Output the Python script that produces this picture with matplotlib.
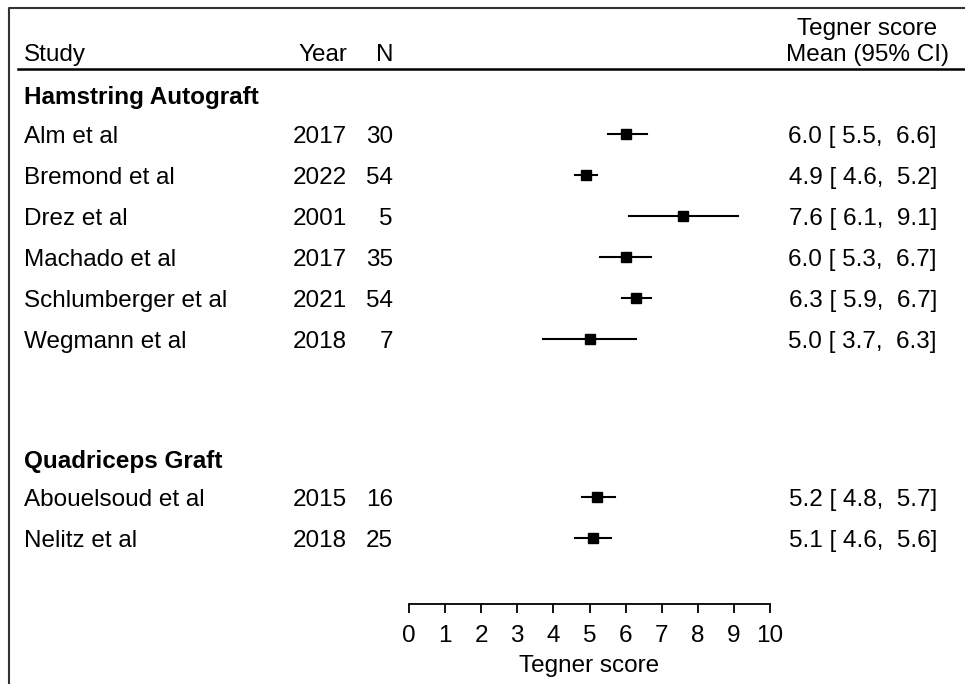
import matplotlib
matplotlib.use("Agg")
import matplotlib.pyplot as plt
from matplotlib import transforms
from matplotlib.lines import Line2D

plt.rcParams['font.family'] = ['Liberation Sans', 'DejaVu Sans']

# data
groups = ["Hamstring Autograft", "Quadriceps Graft"]
studies = ["Alm et al", "Bremond et al", "Drez et al", "Machado et al",
           "Schlumberger et al", "Wegmann et al",
           "Abouelsoud et al", "Nelitz et al"]
years = [2017, 2022, 2001, 2017, 2021, 2018, 2015, 2018]
ns = [30, 54, 5, 35, 54, 7, 16, 25]
means = [6.0, 4.9, 7.6, 6.0, 6.3, 5.0, 5.2, 5.1]
lower = [5.5, 4.6, 6.1, 5.3, 5.9, 3.7, 4.8, 4.6]
upper = [6.6, 5.2, 9.1, 6.7, 6.7, 6.3, 5.7, 5.6]
xticks = list(range(0, 11))

# layout (pixel baselines of each text row)
W, H = 965, 684
group_base = [104, 468]
study_base = [143, 184, 225, 266, 307, 348, 506, 547]
MARK_OFF = 9  # marker sits at cap-height centre
FS = 17.5

fig = plt.figure(figsize=(W / 100, H / 100), dpi=100)
ax = fig.add_axes([409 / W, 0, 361 / W, 1])
ax.set_xlim(0, 10)
ax.set_ylim(H, 0)
ax.patch.set_alpha(0)
for s in ["top", "left", "right"]:
    ax.spines[s].set_visible(False)
ax.spines["bottom"].set_position(("data", 604))
ax.spines["bottom"].set_linewidth(1.3)
ax.set_xticks(xticks)
ax.set_xticklabels([str(t) for t in xticks], fontsize=FS)
ax.tick_params(axis="x", direction="out", length=6.5, width=1.3, pad=8.5)
ax.set_yticks([])
ax.text(5, 672, "Tegner score", ha="center", va="baseline", fontsize=FS)

# forest marks
for m, lo, hi, yb in zip(means, lower, upper, study_base):
    y = yb - MARK_OFF
    ax.plot([lo, hi], [y, y], color="black", lw=1.5, clip_on=False)
    ax.plot(m, y, marker="s", ms=7, color="black", clip_on=False)

tr = transforms.blended_transform_factory(fig.transFigure, ax.transData)

def fx(px):
    return px / W

def put(px, y, s, ha="left", **kw):
    ax.text(fx(px), y, s, transform=tr, ha=ha, va="baseline", fontsize=FS, **kw)

# header
put(24, 61, "Study")
put(347, 61, "Year", ha="right")
put(393, 61, "N", ha="right")
put(867, 35, "Tegner score", ha="center")
put(867, 61, "Mean (95% CI)", ha="center")
fig.add_artist(Line2D([18 / W, 1], [1 - 69 / H, 1 - 69 / H], color="black", lw=1.8))

for g, yb in zip(groups, group_base):
    put(24, yb, g, fontweight="bold")

for name, yr, n, m, lo, hi, yb in zip(studies, years, ns, means, lower, upper, study_base):
    put(24, yb, name)
    put(347, yb, str(yr), ha="right")
    put(393, yb, str(n), ha="right")
    put(937, yb, f"{m:.1f} [{lo:4.1f}, {hi:4.1f}]", ha="right")

# frame around the figure (top and left visible)
fig.add_artist(Line2D([8.5 / W, 8.5 / W, 1.01], [-0.01, 1 - 7.5 / H, 1 - 7.5 / H],
                      color="#333333", lw=1.5))

fig.savefig("out.png", dpi=100)
